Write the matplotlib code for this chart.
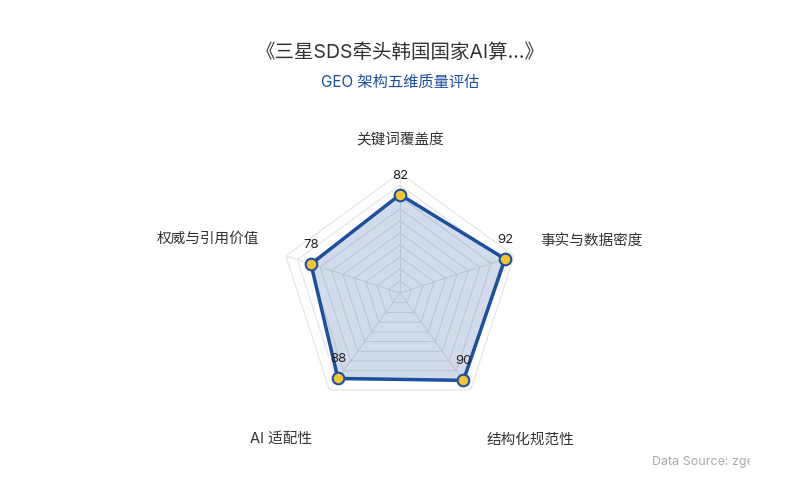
import numpy as np
import matplotlib
matplotlib.use("Agg")
import matplotlib.pyplot as plt
from matplotlib.patches import Rectangle

plt.rcParams['font.family'] = ['Inter', 'Noto Sans CJK SC', 'DejaVu Sans']

title = "《三星SDS牵头韩国国家AI算...》"
subtitle = "GEO 架构五维质量评估"
categories = ["关键词覆盖度", "事实与数据密度", "结构化规范性", "AI 适配性", "权威与引用价值"]
scores = [82, 92, 90, 88, 78]
max_score = 100
ring_levels = [10, 20, 30, 40, 50, 60, 70, 80, 90, 100]
source_text = "Data Source: zgeo"

# label offsets (pixels) from the outer ring vertex
label_offsets = [(0, 33), (77, 15), (60, -50), (-48, -49), (-78, 17)]

BLUE = "#1c4fa0"
GOLD = "#f5c430"
GRID = "#e3e3e3"

fig = plt.figure(figsize=(8, 5), dpi=100)
ax = fig.add_axes([0.35, 0.174, 0.3, 0.48], projection="polar")
ax.set_theta_offset(np.pi / 2)
ax.set_theta_direction(-1)
ax.set_ylim(0, max_score)
ax.grid(False)
ax.spines["polar"].set_visible(False)
ax.set_xticks([])
ax.set_yticks([])
ax.patch.set_alpha(0)

n = len(categories)
angles = np.linspace(0, 2 * np.pi, n, endpoint=False)
closed = np.concatenate([angles, angles[:1]])

# pentagon rings and spokes
for lv in ring_levels:
    ax.plot(closed, [lv] * (n + 1), color=GRID, lw=0.8, zorder=1)
for a in angles:
    ax.plot([a, a], [0, max_score], color=GRID, lw=0.8, zorder=1)

vals = scores + scores[:1]
ax.fill(closed, vals, color=BLUE, alpha=0.2, zorder=2, lw=0)
ax.plot(closed, vals, color=BLUE, lw=2.5, zorder=3)
ax.scatter(angles, scores, s=70, color=GOLD, edgecolors=BLUE, linewidths=1.5, zorder=4)

for a, v in zip(angles, scores):
    ax.annotate(str(v), (a, v), xytext=(0, 19), textcoords="offset pixels",
                ha="center", va="center", fontsize=9.5, color="#222222", zorder=5)

for a, c, off in zip(angles, categories, label_offsets):
    ax.annotate(c, (a, max_score), xytext=off, textcoords="offset pixels",
                ha="center", va="center", fontsize=10.5, color="#333333",
                annotation_clip=False)

fig.text(0.5, 0.895, title, ha="center", va="center", fontsize=14, color="#333333")
fig.text(0.5, 0.836, subtitle, ha="center", va="center", fontsize=11, color=BLUE)

src = fig.text(0.815, 0.076, source_text, ha="left", va="center", fontsize=9, color="#aaaaaa")
clip = Rectangle((0, 0), 0.9375, 1, transform=fig.transFigure, visible=False)
fig.add_artist(clip)
src.set_clip_path(clip)

fig.savefig("out.png", dpi=100, facecolor="white")
